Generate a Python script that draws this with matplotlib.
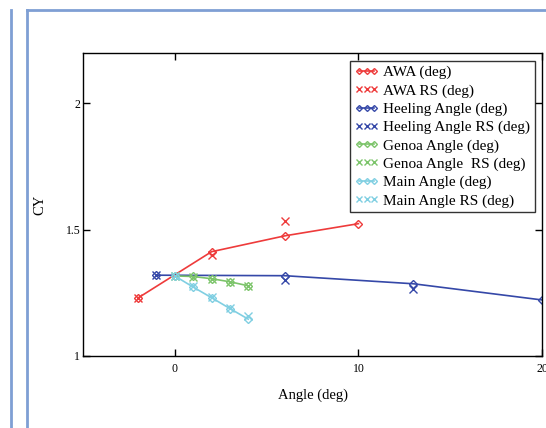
import matplotlib
matplotlib.use("Agg")
import matplotlib.pyplot as plt
from matplotlib.lines import Line2D

plt.rcParams['font.family'] = ['Liberation Serif', 'DejaVu Serif']

awa_x = [-2, 2, 6, 10]
awa_y = [1.23, 1.413, 1.476, 1.524]
awa_rs_x = [-2, 2, 6]
awa_rs_y = [1.23, 1.40, 1.536]

heel_x = [-1, 6, 13, 20]
heel_y = [1.32, 1.318, 1.286, 1.222]
heel_rs_x = [-1, 6, 13]
heel_rs_y = [1.32, 1.30, 1.267]

genoa_x = [0, 1, 2, 3, 4]
genoa_y = [1.317, 1.315, 1.306, 1.294, 1.278]
genoa_rs_x = [0, 1, 2, 3, 4]
genoa_rs_y = [1.317, 1.313, 1.304, 1.292, 1.276]

main_x = [0, 1, 2, 3, 4]
main_y = [1.317, 1.273, 1.231, 1.188, 1.146]
main_rs_x = [0, 1, 2, 3, 4]
main_rs_y = [1.317, 1.276, 1.233, 1.192, 1.16]

red = '#ee3b3b'
blue = '#3548a8'
green = '#7cc46a'
cyan = '#80cfe2'

fig = plt.figure(figsize=(5.46, 4.28), dpi=100)
ax = fig.add_axes([83/546, 72/428, (542-83)/546, (356-53)/428])

lw = 1.2
ax.plot(awa_x, awa_y, color=red, lw=lw, marker='D', ms=4, mfc='none', mew=1, label='AWA (deg)')
ax.plot(awa_rs_x, awa_rs_y, color=red, lw=0, marker='x', ms=6, mew=1, label='AWA RS (deg)')
ax.plot(heel_x, heel_y, color=blue, lw=lw, marker='D', ms=4, mfc='none', mew=1, label='Heeling Angle (deg)')
ax.plot(heel_rs_x, heel_rs_y, color=blue, lw=0, marker='x', ms=6, mew=1, label='Heeling Angle RS (deg)')
ax.plot(genoa_x, genoa_y, color=green, lw=lw, marker='D', ms=4, mfc='none', mew=1, label='Genoa Angle (deg)')
ax.plot(genoa_rs_x, genoa_rs_y, color=green, lw=0, marker='x', ms=6, mew=1, label='Genoa Angle  RS (deg)')
ax.plot(main_x, main_y, color=cyan, lw=lw, marker='D', ms=4, mfc='none', mew=1, label='Main Angle (deg)')
ax.plot(main_rs_x, main_rs_y, color=cyan, lw=0, marker='x', ms=6, mew=1, label='Main Angle RS (deg)')

ax.set_xlim(-5, 20)
ax.set_ylim(1, 2.2)
ax.set_xticks([0, 10, 20])
ax.set_yticks([1, 1.5, 2])
ax.set_yticklabels(['1', '1.5', '2'])
ax.tick_params(direction='in', length=5, width=1, labelsize=8.5, top=True, right=True)
ax.tick_params(axis='y', pad=2)
ax.tick_params(axis='x', pad=5)
for s in ax.spines.values():
    s.set_linewidth(1.0)
    s.set_color('black')

ax.set_xlabel('Angle (deg)', fontsize=10.5, labelpad=10)
ax.set_ylabel('CY', fontsize=10.5, labelpad=14)

leg = ax.legend(loc='upper right', bbox_to_anchor=((535-83)/(542-83), (356-61)/(356-53)),
                fontsize=11, frameon=True, fancybox=False, edgecolor='black',
                numpoints=3, handlelength=1.6, handletextpad=0.3, labelspacing=0.29,
                borderpad=0.3, borderaxespad=0, markerscale=0.75)
leg.get_frame().set_linewidth(1.0)

bc = '#7f9fd4'
fig.add_artist(Line2D([11/546, 11/546], [0, 1 - 10/428], color=bc, lw=2, transform=fig.transFigure))
fig.add_artist(Line2D([27/546, 27/546], [0, 1 - 10/428], color=bc, lw=2, transform=fig.transFigure))
fig.add_artist(Line2D([27/546, 1], [1 - 10/428, 1 - 10/428], color=bc, lw=2, transform=fig.transFigure))

fig.savefig('out.png', dpi=100)
